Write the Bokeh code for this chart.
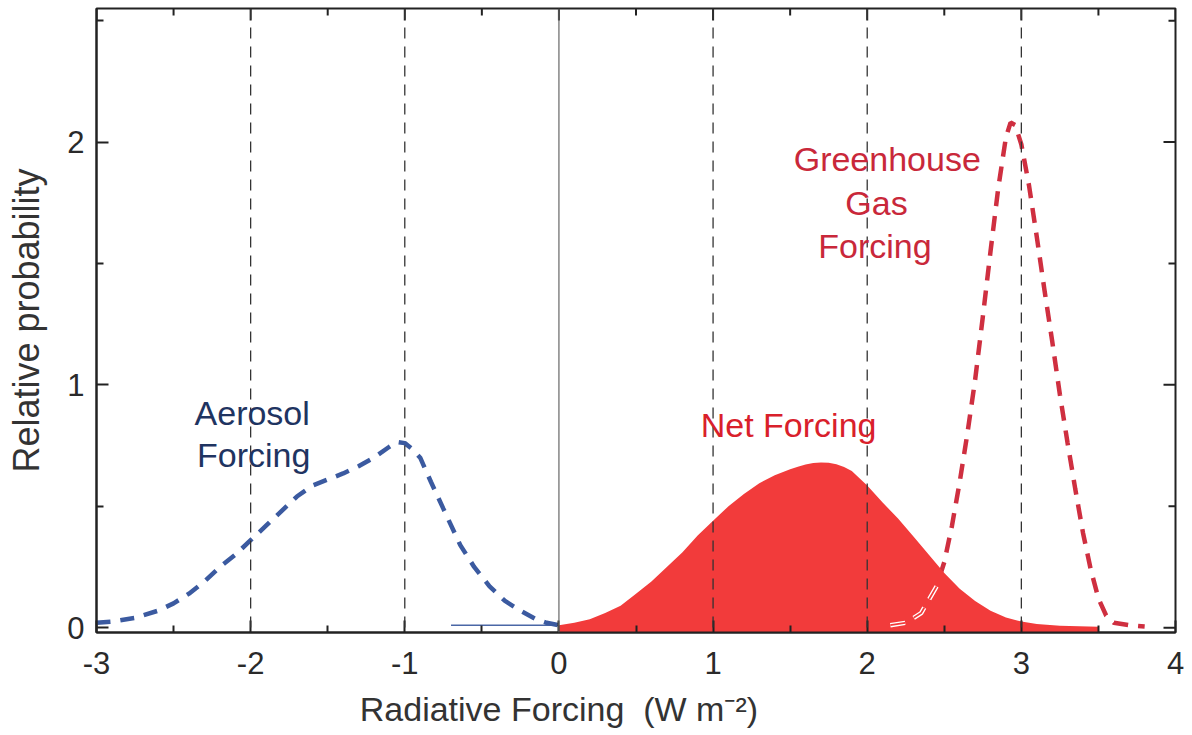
from bokeh.plotting import figure
from bokeh.models import Range1d, FixedTicker, Span, Label, PrintfTickFormatter, LinearAxis
from bokeh.embed import file_html
from bokeh.resources import INLINE
import numpy as np

# ---------------- data ----------------
x_major = [-3, -2, -1, 0, 1, 2, 3, 4]
x_minor = [-2.5, -1.5, -0.5, 0.5, 1.5, 2.5, 3.5]
y_major = [0, 1, 2]
y_minor = [0.5, 1.5, 2.5]
vline_x = [-2, -1, 1, 2, 3]

aerosol_x = [-3.00, -2.90, -2.75, -2.60, -2.50, -2.40, -2.30, -2.20, -2.10, -2.00,
             -1.90, -1.80, -1.70, -1.60, -1.50, -1.40, -1.30, -1.20, -1.10, -1.05,
             -1.00, -0.95, -0.90, -0.83, -0.75, -0.64, -0.55, -0.45, -0.35, -0.25,
             -0.15, -0.08, 0.00]
aerosol_y = [0.020, 0.025, 0.040, 0.070, 0.100, 0.140, 0.190, 0.250, 0.300, 0.360,
             0.420, 0.480, 0.540, 0.585, 0.610, 0.635, 0.665, 0.700, 0.745, 0.765,
             0.760, 0.735, 0.700, 0.600, 0.490, 0.340, 0.250, 0.170, 0.110, 0.070,
             0.035, 0.020, 0.010]

net_tail_x = [-0.70, 0.00]
net_tail_y = [0.010, 0.010]

net_x = [0.00, 0.10, 0.20, 0.30, 0.40, 0.50, 0.60, 0.70, 0.80, 0.90,
         1.00, 1.10, 1.20, 1.30, 1.40, 1.50, 1.55, 1.60, 1.65, 1.70,
         1.75, 1.80, 1.85, 1.90, 2.00, 2.10, 2.20, 2.30, 2.40, 2.50,
         2.60, 2.70, 2.80, 2.90, 3.00, 3.10, 3.25, 3.50]
net_y = [0.010, 0.020, 0.035, 0.060, 0.090, 0.140, 0.190, 0.250, 0.310, 0.380,
         0.440, 0.500, 0.550, 0.595, 0.628, 0.652, 0.663, 0.672, 0.678, 0.680,
         0.679, 0.673, 0.662, 0.645, 0.585, 0.515, 0.450, 0.375, 0.300, 0.225,
         0.160, 0.110, 0.070, 0.042, 0.025, 0.015, 0.008, 0.004]

ghg_x = [2.15, 2.25, 2.35, 2.45, 2.50, 2.55, 2.60, 2.65, 2.70, 2.75,
         2.80, 2.85, 2.90, 2.93, 2.96, 3.00, 3.05, 3.10, 3.15, 3.20,
         3.25, 3.30, 3.35, 3.40, 3.45, 3.50, 3.55, 3.60, 3.70, 3.80]
ghg_y = [0.010, 0.020, 0.060, 0.170, 0.270, 0.420, 0.600, 0.800, 1.020, 1.280,
         1.550, 1.810, 2.020, 2.080, 2.070, 1.990, 1.820, 1.610, 1.390, 1.180,
         0.960, 0.760, 0.570, 0.390, 0.240, 0.120, 0.050, 0.020, 0.010, 0.005]

label_text = ["Aerosol", "Forcing", "Net Forcing", "Greenhouse", "Gas", "Forcing"]
label_x = [-1.99, -1.98, 1.49, 2.13, 2.06, 2.05]
label_y = [0.885, 0.71, 0.835, 1.93, 1.75, 1.57]
label_color = ["#1f3461", "#1f3461", "#d9202b", "#c9283a", "#c9283a", "#c9283a"]

x_title = "Radiative Forcing\u00a0 (W m\u207b\u00b2)"
x_title_at = 0  # the original title is centred under x = 0
y_title = "Relative probability"

# ---------------- figure ----------------
FONT = "Liberation Sans"
AX = "#222222"
p = figure(width=1184, height=735,
           x_range=Range1d(-3, 4), y_range=Range1d(-0.02, 2.55),
           output_backend="svg", toolbar_location=None,
           min_border_left=96, min_border_right=9, min_border_top=8, min_border_bottom=103)
p.grid.visible = False
p.outline_line_color = AX
p.outline_line_width = 2
p.background_fill_color = "white"
p.border_fill_color = "white"

for ax, ticks, minors in ((p.xaxis[0], x_major, x_minor), (p.yaxis[0], y_major, y_minor)):
    ax.ticker = FixedTicker(ticks=ticks, minor_ticks=minors)
    ax.formatter = PrintfTickFormatter(format="%d")
    ax.axis_line_color = AX
    ax.axis_line_width = 2
    ax.major_tick_line_color = AX
    ax.major_tick_line_width = 2
    ax.minor_tick_line_color = AX
    ax.minor_tick_line_width = 2
    ax.major_tick_in = 12
    ax.major_tick_out = 0
    ax.minor_tick_in = 7
    ax.minor_tick_out = 0
    ax.major_label_text_font = FONT
    ax.major_label_text_color = "#2a2a2a"
    ax.major_label_text_font_size = "31px"
    ax.axis_label_text_font = FONT
    ax.axis_label_text_color = "#333333"
    ax.axis_label_text_font_style = "normal"

p.xaxis.major_label_standoff = 19
p.yaxis.major_label_standoff = 12
p.yaxis.axis_label = y_title
p.yaxis.axis_label_text_font_size = "36px"
p.yaxis.axis_label_standoff = 17

# second bottom axis, with one invisible tick at x = 0 whose label is the x title
title_axis = LinearAxis(ticker=FixedTicker(ticks=[x_title_at], minor_ticks=[]),
                        major_label_overrides={x_title_at: x_title},
                        axis_line_color=None, major_tick_line_color=None,
                        minor_tick_line_color=None, major_tick_out=0, major_tick_in=0,
                        minor_tick_out=0, minor_tick_in=0, major_label_standoff=13,
                        major_label_text_font=FONT, major_label_text_font_size="34px",
                        major_label_text_color="#333333")
p.add_layout(title_axis, "below")

# inward ticks on the top and right frame edges
top_y = [p.y_range.end] * (len(x_major) + len(x_minor))
p.ray(x=x_major + x_minor, y=top_y,
      length=[12] * len(x_major) + [7] * len(x_minor), length_units="screen",
      angle=-np.pi / 2, line_color=AX, line_width=2)
right_x = [p.x_range.end] * (len(y_major) + len(y_minor))
p.ray(x=right_x, y=y_major + y_minor,
      length=[12] * len(y_major) + [7] * len(y_minor), length_units="screen",
      angle=np.pi, line_color=AX, line_width=2)

# reference lines
for vx in vline_x:
    p.add_layout(Span(location=vx, dimension="height", line_color="#333333",
                      line_width=1.3, line_dash="11 8"))
p.add_layout(Span(location=0, dimension="height", line_color="#666666", line_width=1.2))

# GHG dashed curve (under the fill)
p.line(ghg_x, ghg_y, line_color="#cf2f40", line_width=4.5, line_dash="15 10")

# Net forcing fill
p.varea(x=net_x, y1=-0.02, y2=net_y, fill_color="#f23b3b")

# GHG rising flank hidden under the fill, drawn as a white double dash
gx = np.array(ghg_x)
gy = np.array(ghg_y)
peak = int(np.argmax(gy))
under = (gy < np.interp(gx, net_x, net_y) + 0.03) & (np.arange(len(gx)) < peak)
p.line(gx[under].tolist(), gy[under].tolist(), line_color="white", line_width=4.5, line_dash="15 10")
p.line(gx[under].tolist(), gy[under].tolist(), line_color="#f23b3b", line_width=1.8, line_dash="15 10")

# net forcing left tail
p.line(net_tail_x, net_tail_y, line_color="#4a67a6", line_width=1.6)

# Aerosol dashed curve
p.line(aerosol_x, aerosol_y, line_color="#3b5aa0", line_width=4.5, line_dash="14 10")

for t, lx, ly, c in zip(label_text, label_x, label_y, label_color):
    p.add_layout(Label(x=lx, y=ly, text=t, text_align="center", text_baseline="middle",
                       text_font=FONT, text_font_size="34px", text_color=c))

open("out.html", "w").write(file_html(p, INLINE))
